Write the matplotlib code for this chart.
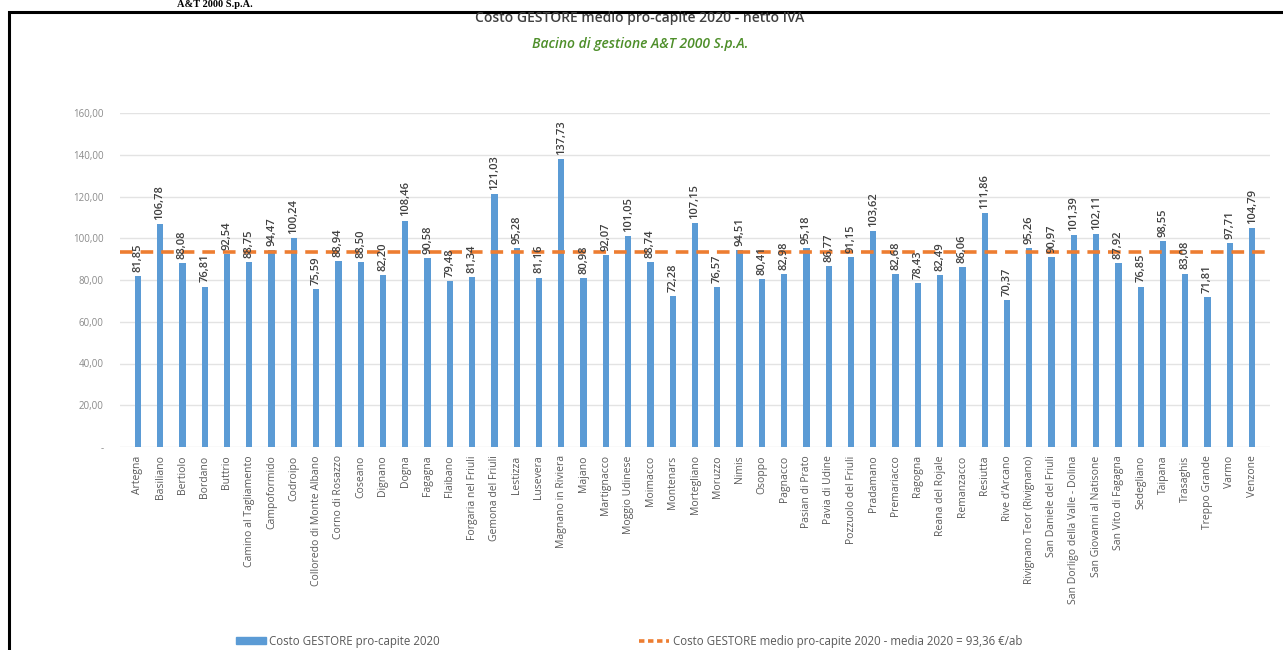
import numpy as np
import matplotlib.pyplot as plt
from matplotlib.patches import Rectangle
from matplotlib.lines import Line2D

plt.rcParams['font.family'] = ['Open Sans', 'DejaVu Sans']

# dati
comuni = ["Artegna", "Basiliano", "Bertiolo", "Bordano", "Buttrio",
          "Camino al Tagliamento", "Campoformido", "Codroipo",
          "Colloredo di Monte Albano", "Corno di Rosazzo", "Coseano",
          "Dignano", "Dogna", "Fagagna", "Flaibano", "Forgaria nel Friuli",
          "Gemona del Friuli", "Lestizza", "Lusevera", "Magnano in Riviera",
          "Majano", "Martignacco", "Moggio Udinese", "Moimacco", "Montenars",
          "Mortegliano", "Moruzzo", "Nimis", "Osoppo", "Pagnacco",
          "Pasian di Prato", "Pavia di Udine", "Pozzuolo del Friuli",
          "Pradamano", "Premariacco", "Ragogna", "Reana del Rojale",
          "Remanzacco", "Resiutta", "Rive d'Arcano",
          "Rivignano Teor (Rivignano)", "San Daniele del Friuli",
          "San Dorligo della Valle - Dolina", "San Giovanni al Natisone",
          "San Vito di Fagagna", "Sedegliano", "Taipana", "Trasaghis",
          "Treppo Grande", "Varmo", "Venzone"]
costo = [81.85, 106.78, 88.08, 76.81, 92.54, 88.75, 94.47, 100.24, 75.59,
         88.94, 88.50, 82.20, 108.46, 90.58, 79.48, 81.34, 121.03, 95.28,
         81.16, 137.73, 80.98, 92.07, 101.05, 88.74, 72.28, 107.15, 76.57,
         94.51, 80.41, 82.98, 95.18, 86.77, 91.15, 103.62, 82.68, 78.43,
         82.49, 86.06, 111.86, 70.37, 95.26, 90.97, 101.39, 102.11, 87.92,
         76.85, 98.55, 83.08, 71.81, 97.71, 104.79]
media = 93.36
yticks = [0, 20, 40, 60, 80, 100, 120, 140, 160]

W, H = 1283, 650
fig = plt.figure(figsize=(W / 100, H / 100), dpi=100)
ax = fig.add_axes([120 / W, 1 - 447 / H, 1150 / W, 334 / H])

x = np.arange(len(comuni))
ax.bar(x, costo, width=0.28, color='#5B9BD5', zorder=2)
ax.axhline(media, color='#ED7D31', lw=2.6, ls=(0, (3.5, 2.2)), zorder=3)

# etichette valori
for xi, v in zip(x, costo):
    ax.text(xi, v + 2, f"{v:.2f}".replace('.', ','), rotation=90,
            ha='center', va='bottom', fontsize=8, color='#404040',
            fontweight='semibold', zorder=4)

ax.set_xlim(-0.8, len(comuni) - 0.2)
ax.set_ylim(0, 160)
ax.set_yticks(yticks)
ax.set_yticklabels(['-' if t == 0 else f"{t:.2f}".replace('.', ',') for t in yticks],
                   fontsize=7, color='#8a8a8a')
ax.set_xticks(x)
ax.set_xticklabels(comuni, rotation=90, fontsize=7.5, color='#595959')
ax.tick_params(length=0, pad=6)
ax.tick_params(axis='y', pad=12)
ax.grid(axis='y', color='#e3e3e3', lw=1, zorder=0)
for s in ax.spines.values():
    s.set_visible(False)

# titoli
fig.text(640 / W, 1 - 18 / H, "Costo GESTORE medio pro-capite 2020 - netto IVA",
         ha='center', va='center', fontsize=10, color='#404040', fontweight='semibold')
fig.text(640 / W, 1 - 44 / H, "Bacino di gestione A&T 2000 S.p.A.",
         ha='center', va='center', fontsize=10, color='#4E8F2A', style='italic',
         fontweight='semibold')

# testo del documento in alto
fig.text(215 / W, 1.0, "A&T 2000 S.p.A.", ha='center', va='top',
         fontsize=7.5, family='Liberation Serif', fontweight='bold', color='black')

# legenda
handles = [Rectangle((0, 0), 1, 1, color='#5B9BD5'),
           Line2D([0], [0], color='#ED7D31', lw=2.6, ls=(0, (1.5, 1)))]
labels = ["Costo GESTORE pro-capite 2020",
          "Costo GESTORE medio pro-capite 2020 - media 2020 = 93,36 €/ab"]
leg = fig.legend(handles, labels, loc='center', bbox_to_anchor=(629 / W, 1 - 641 / H),
                 ncol=2, frameon=False, fontsize=8.3, columnspacing=17.3,
                 handlelength=2.6, handleheight=0.5, handletextpad=0.3)
for t in leg.get_texts():
    t.set_color('#595959')

# cornice
fig.patches.append(Rectangle((9 / W, -0.05), 1.1, 1 - 12 / H + 0.05,
                             transform=fig.transFigure, fill=False,
                             ec='black', lw=2.2))

fig.savefig('out.png', dpi=100)
